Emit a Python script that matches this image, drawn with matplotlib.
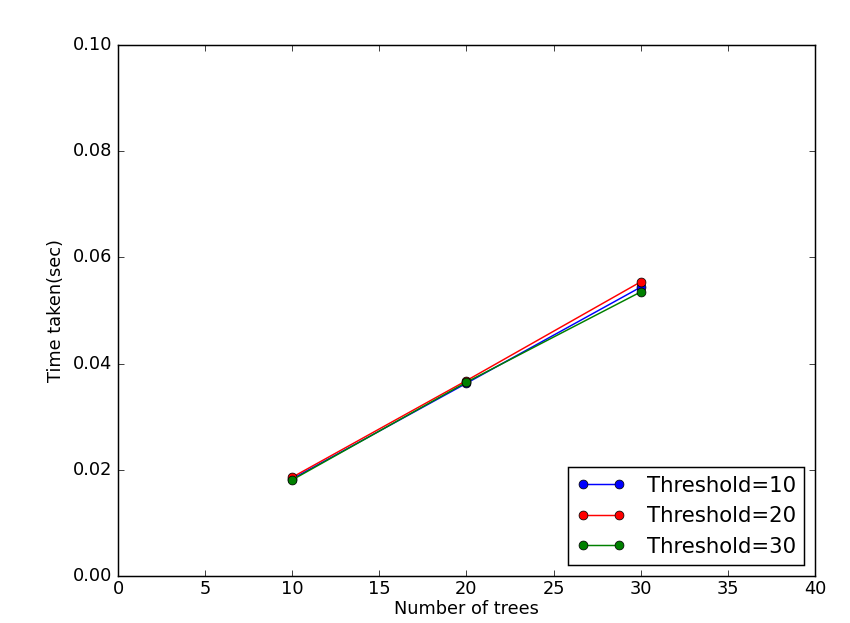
import matplotlib
matplotlib.use("Agg")
import matplotlib.pyplot as plt

plt.style.use("classic")

trees = [10, 20, 30]
thr10 = [0.0183, 0.0363, 0.0544]
thr20 = [0.0186, 0.0368, 0.0554]
thr30 = [0.0181, 0.0365, 0.0535]
labels = ["Threshold=10", "Threshold=20", "Threshold=30"]
colors = ["b", "r", "g"]

DPI = 106.25
fig = plt.figure(figsize=(850 / DPI, 623 / DPI), dpi=DPI, facecolor="white")
ax = fig.add_axes([118 / 850, 47 / 623, (815 - 118) / 850, (576 - 45) / 623])

for ys, lab, c in zip([thr10, thr20, thr30], labels, colors):
    ax.plot(trees, ys, "-o", color=c, label=lab, lw=1, markersize=6,
            markeredgecolor="black", markeredgewidth=0.5)

ax.set_xlim(0, 40)
ax.set_ylim(0, 0.10)
ax.set_xticks(range(0, 41, 5))
ax.set_yticks([0, 0.02, 0.04, 0.06, 0.08, 0.10])
ax.set_yticklabels(["0.00", "0.02", "0.04", "0.06", "0.08", "0.10"])
ax.tick_params(labelsize=12)
ax.tick_params(axis="x", pad=3)
ax.set_xlabel("Number of trees", fontsize=12, labelpad=1)
ax.set_ylabel("Time taken(sec)", fontsize=12)
ax.legend(loc="lower right", fontsize=14.4, numpoints=2,
          handlelength=2.3, handletextpad=1.0, borderpad=0.4)

fig.savefig("out.png", dpi=DPI, facecolor="white")
